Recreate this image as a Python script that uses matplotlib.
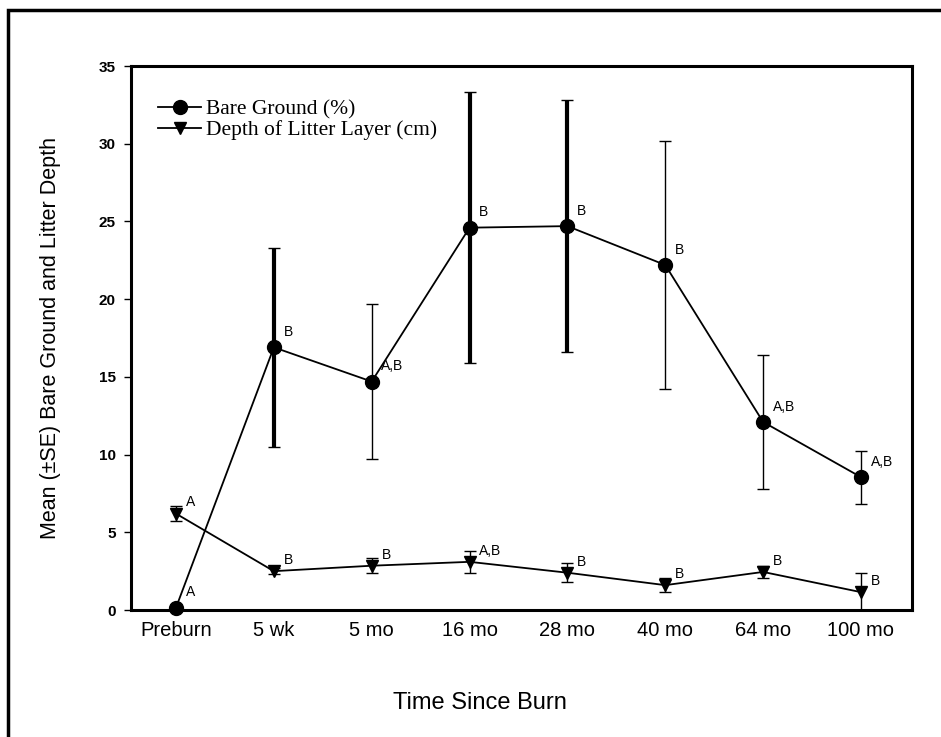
import matplotlib
matplotlib.use("Agg")
import matplotlib.pyplot as plt
import numpy as np
from matplotlib.patches import Rectangle

# data
times = ['Preburn', '5 wk', '5 mo', '16 mo', '28 mo', '40 mo', '64 mo', '100 mo']
bare_mean = [0.15, 16.9, 14.7, 24.6, 24.7, 22.2, 12.1, 8.55]
bare_se = [0.1, 6.4, 5.0, 8.7, 8.1, 8.0, 4.3, 1.7]
bare_sig = ['A', 'B', 'A,B', 'B', 'B', 'B', 'A,B', 'A,B']
litter_mean = [6.2, 2.5, 2.85, 3.1, 2.4, 1.6, 2.45, 1.15]
litter_se = [0.5, 0.2, 0.5, 0.7, 0.6, 0.45, 0.4, 1.2]
litter_sig = ['A', 'B', 'B', 'A,B', 'B', 'B', 'B', 'B']

plt.rcParams['font.family'] = ['Liberation Sans', 'DejaVu Sans']

fig = plt.figure(figsize=(9.41, 7.37), dpi=100)
ax = fig.add_axes([0.1392, 0.1723, 0.8298, 0.7381])

x = np.arange(len(times))

# thick error bars on a few points like in the scan
bar_lw = [1.0, 3.0, 1.0, 3.0, 3.0, 1.0, 1.0, 1.0]
for xi, m, s, lw in zip(x, bare_mean, bare_se, bar_lw):
    ax.errorbar(xi, m, yerr=s, fmt='none', ecolor='black', elinewidth=lw,
                capsize=4, capthick=1.0, clip_on=False, zorder=2)
ax.errorbar(x, litter_mean, yerr=litter_se, fmt='none', ecolor='black',
            elinewidth=1.0, capsize=4, capthick=1.0, zorder=2)

l1, = ax.plot(x, bare_mean, color='black', lw=1.3, marker='o', markersize=10,
              label='Bare Ground (%)', zorder=3, clip_on=False)
l2, = ax.plot(x, litter_mean, color='black', lw=1.3, marker='v', markersize=9,
              label='Depth of Litter Layer (cm)', zorder=3)

# significance letters
for xi, m, t in zip(x, bare_mean, bare_sig):
    ax.annotate(t, (xi, m), xytext=(7, 6), textcoords='offset points',
                fontsize=10, ha='left', va='bottom')
for xi, m, t in zip(x, litter_mean, litter_sig):
    ax.annotate(t, (xi, m), xytext=(7, 3), textcoords='offset points',
                fontsize=10, ha='left', va='bottom')

ax.set_xlim(-0.46, 7.52)
ax.set_ylim(0, 35)
ax.set_yticks(np.arange(0, 36, 5))
ax.tick_params(axis='y', direction='out', length=5, width=1, labelsize=11, pad=6)
for lab in ax.get_yticklabels():
    lab.set_fontweight('bold')
ax.set_xticks(x)
ax.set_xticklabels(times, fontsize=14.5)
ax.tick_params(axis='x', length=0, pad=8)

for sp in ax.spines.values():
    sp.set_linewidth(2.2)

ax.set_ylabel('Mean (\u00b1SE) Bare Ground and Litter Depth', fontsize=15.5)
ax.yaxis.set_label_coords(-0.09, 0.5)
ax.set_xlabel('Time Since Burn', fontsize=17)
ax.xaxis.set_label_coords(0.447, -0.15)

leg = ax.legend(handles=[l1, l2], loc='upper left', bbox_to_anchor=(0.01, 0.975),
                frameon=False, handlelength=2.0, handletextpad=0.2,
                labelspacing=0.05, prop={'family': 'Liberation Serif', 'size': 15.5})

# outer frame of the scanned page
fig.patches.append(Rectangle((0.009, -0.1), 1.2, 1.087, transform=fig.transFigure,
                             fill=False, lw=2.5, edgecolor='black'))

fig.savefig('out.png', dpi=100)
